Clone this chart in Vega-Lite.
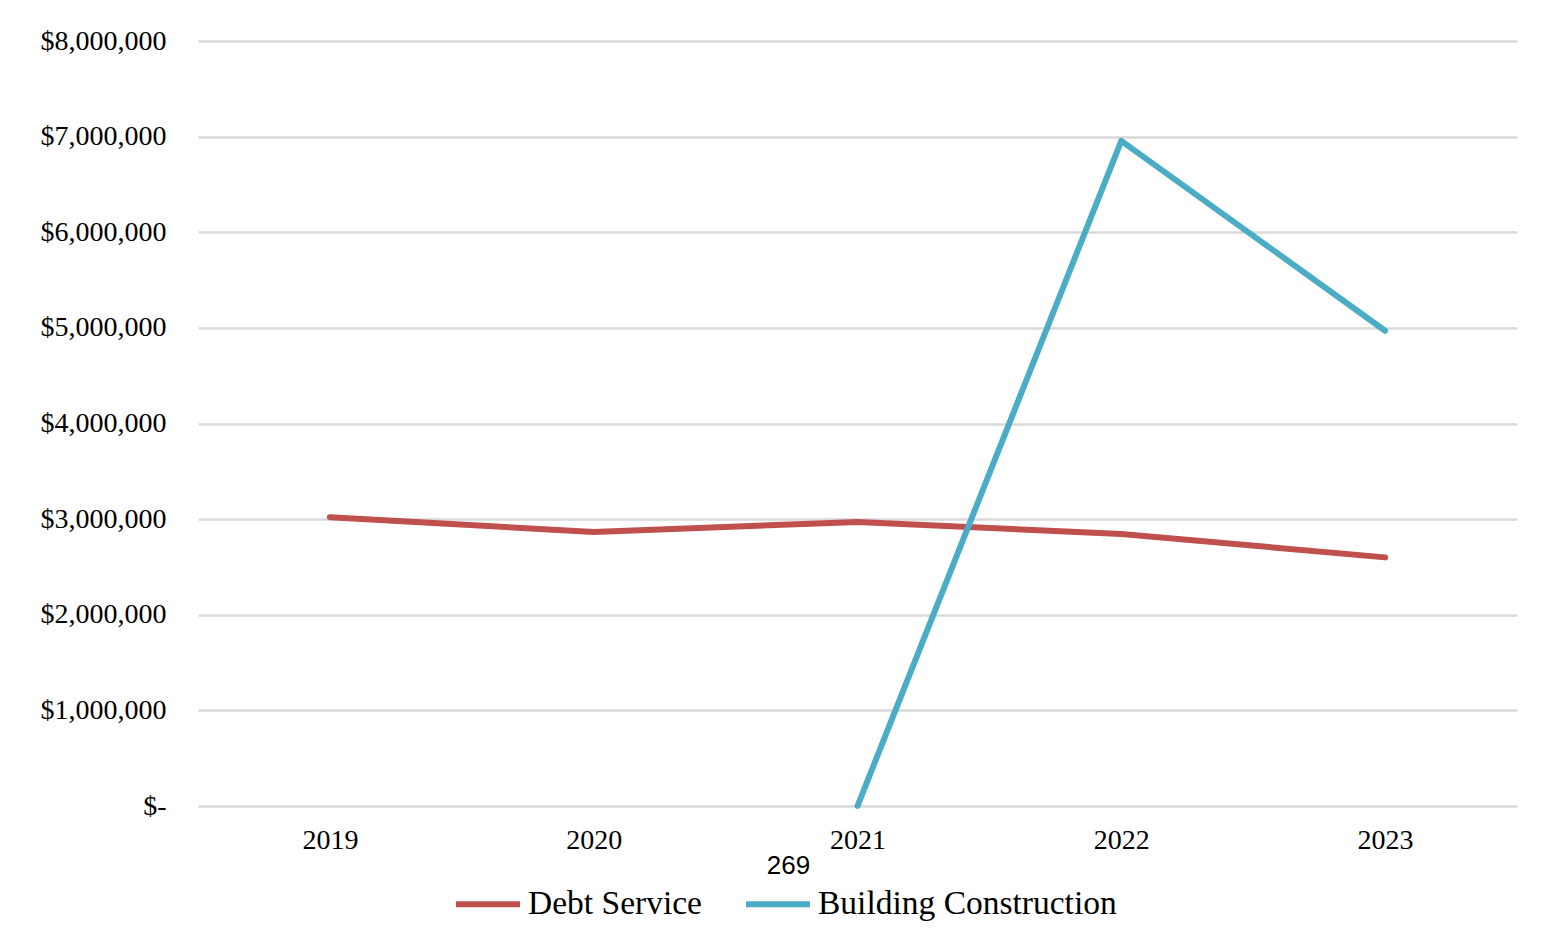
{
  "$schema": "https://vega.github.io/schema/vega-lite/v6.json",
  "autosize": "none",
  "width": 1319,
  "height": 765,
  "padding": {"left": 198, "top": 41, "right": 28, "bottom": 138},
  "background": "white",
  "config": {
    "view": {"stroke": null},
    "font": "Liberation Serif"
  },
  "data": {
    "values": [
      {"year": "2019", "series": "Debt Service", "amount": 3020000},
      {"year": "2020", "series": "Debt Service", "amount": 2866000},
      {"year": "2021", "series": "Debt Service", "amount": 2970000},
      {"year": "2022", "series": "Debt Service", "amount": 2845000},
      {"year": "2023", "series": "Debt Service", "amount": 2600000},
      {"year": "2021", "series": "Building Construction", "amount": 0},
      {"year": "2022", "series": "Building Construction", "amount": 6956000},
      {"year": "2023", "series": "Building Construction", "amount": 4970000}
    ]
  },
  "mark": {"type": "line", "strokeWidth": 6, "strokeCap": "round", "strokeJoin": "round"},
  "encoding": {
    "x": {
      "field": "year",
      "type": "ordinal",
      "scale": {"type": "point", "padding": 0.5},
      "axis": {
        "title": "269",
        "titleFont": "Liberation Sans",
        "titleFontSize": 26,
        "titleFontWeight": "normal",
        "titleColor": "black",
        "titleX": 590,
        "titleY": 59,
        "titleAlign": "center",
        "titleBaseline": "middle",
        "labelAngle": 0,
        "labelFont": "Liberation Serif",
        "labelFontSize": 28,
        "labelColor": "black",
        "labelPadding": 20,
        "labelBaseline": "top",
        "ticks": false,
        "domain": false,
        "grid": false
      }
    },
    "y": {
      "field": "amount",
      "type": "quantitative",
      "scale": {"domain": [0, 8000000], "nice": false},
      "axis": {
        "title": null,
        "values": [0, 1000000, 2000000, 3000000, 4000000, 5000000, 6000000, 7000000, 8000000],
        "labelExpr": "datum.value == 0 ? '$-' : '$' + format(datum.value, ',')",
        "labelFont": "Liberation Serif",
        "labelFontSize": 28,
        "labelColor": "black",
        "labelPadding": 32,
        "ticks": false,
        "domain": false,
        "grid": true,
        "gridColor": "#d9d9d9",
        "gridWidth": 2.5
      }
    },
    "color": {
      "field": "series",
      "type": "nominal",
      "scale": {"domain": ["Debt Service", "Building Construction"], "range": ["#C0504D", "#4BACC6"]},
      "legend": {
        "title": null,
        "orient": "none",
        "direction": "horizontal",
        "legendX": 255,
        "legendY": 828,
        "symbolType": "stroke",
        "symbolSize": 4096,
        "symbolStrokeWidth": 6,
        "labelFont": "Liberation Serif",
        "labelFontSize": 33.5,
        "labelColor": "black",
        "labelOffset": 5,
        "columnPadding": 32,
        "labelLimit": 400,
        "padding": 0
      }
    }
  }
}
